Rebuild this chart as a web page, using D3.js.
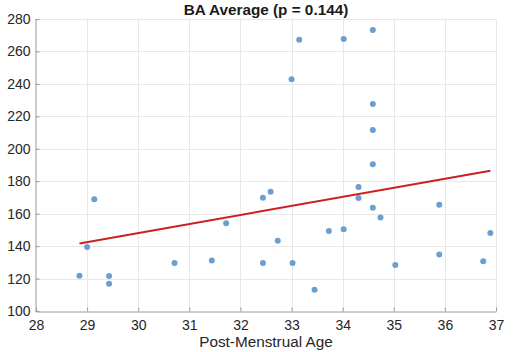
<!DOCTYPE html>
<html>
<head>
<meta charset="utf-8">
<script src="https://cdn.jsdelivr.net/npm/d3@7"></script>
<style>
  html, body { margin: 0; padding: 0; background: #fff; }
  svg { display: block; font-family: "Liberation Sans", Arial, Helvetica, sans-serif; }
</style>
</head>
<body>
<svg id="chart" width="526" height="352"></svg>
<script>
// Post-menstrual age (weeks) and BA average for each subject
const ageValues = [28.85, 29.0, 29.14, 29.43, 29.43, 30.71, 31.44, 31.72, 32.44, 32.59,
                   32.44, 32.73, 33.02, 33.0, 33.15, 33.45, 33.73, 34.02, 34.02, 34.31,
                   34.31, 34.59, 34.59, 34.59, 34.59, 34.59, 34.74, 35.03, 35.89, 35.89,
                   36.75, 36.89];
const baValues  = [121.8, 139.5, 168.9, 121.6, 116.8, 129.6, 131.2, 154.1, 169.8, 173.5,
                   129.6, 143.3, 129.6, 242.8, 267.2, 113.1, 149.3, 150.4, 267.6, 176.4,
                   169.6, 273.2, 227.6, 211.6, 190.4, 163.7, 157.7, 128.4, 165.5, 134.9,
                   130.6, 148.1];

// Linear fit, evaluated at the ends of the age range
const fitAge = [28.85, 36.89];
const fitBA  = [141.6, 186.5];

const xTicks = [28, 29, 30, 31, 32, 33, 34, 35, 36, 37];
const yTicks = [100, 120, 140, 160, 180, 200, 220, 240, 260, 280];

const titleText = "BA Average (p = 0.144)";
const xLabelText = "Post-Menstrual Age";

const svg = d3.select("#chart");
const plotLeft = 36, plotRight = 496, plotTop = 19, plotBottom = 311;

const x = d3.scaleLinear().domain([28, 37]).range([plotLeft, plotRight]);
const y = d3.scaleLinear().domain([100, 280]).range([plotBottom, plotTop]);

// grid
const grid = svg.append("g").attr("stroke", "#e8e8e8").attr("stroke-width", 1);
grid.selectAll("line.gx").data(xTicks.slice(1)).join("line")
  .attr("x1", d => Math.round(x(d)) + 0.5).attr("x2", d => Math.round(x(d)) + 0.5)
  .attr("y1", plotTop).attr("y2", plotBottom);
grid.selectAll("line.gy").data(yTicks.slice(1)).join("line")
  .attr("x1", plotLeft).attr("x2", plotRight)
  .attr("y1", d => Math.round(y(d)) + 0.5).attr("y2", d => Math.round(y(d)) + 0.5);

// axes with inward ticks
const axisColor = "#9a9a9a";
const xAxis = svg.append("g").attr("transform", `translate(0,${plotBottom + 0.5})`)
  .call(d3.axisBottom(x).tickValues(xTicks).tickSizeInner(-4).tickSizeOuter(0).tickPadding(9));
const yAxis = svg.append("g").attr("transform", `translate(${plotLeft - 0.5},0)`)
  .call(d3.axisLeft(y).tickValues(yTicks).tickSizeInner(-4).tickSizeOuter(0).tickPadding(5));
[xAxis, yAxis].forEach(g => {
  g.select(".domain").attr("stroke", axisColor);
  g.selectAll(".tick line").attr("stroke", axisColor);
  g.selectAll(".tick text").attr("fill", "#262626")
    .style("font-size", "14px")
    .style("font-family", '"Liberation Sans", Arial, sans-serif');
});
yAxis.selectAll(".tick text").attr("x", -5);

// points
svg.append("g").selectAll("circle").data(ageValues.map((a, i) => [a, baValues[i]])).join("circle")
  .attr("cx", d => x(d[0])).attr("cy", d => y(d[1])).attr("r", 3)
  .attr("fill", "#6c9fcd");

// fit line
svg.append("path")
  .datum(fitAge.map((a, i) => [a, fitBA[i]]))
  .attr("d", d3.line().x(d => x(d[0])).y(d => y(d[1])))
  .attr("stroke", "#cc2020").attr("stroke-width", 2).attr("fill", "none");

// title and axis label
svg.append("text").attr("x", (plotLeft + plotRight) / 2).attr("y", 15)
  .attr("text-anchor", "middle").attr("font-weight", "bold").attr("font-size", 15.3)
  .attr("fill", "#1a1a1a").text(titleText);
svg.append("text").attr("x", (plotLeft + plotRight) / 2).attr("y", 347)
  .attr("text-anchor", "middle").attr("font-size", 15.3)
  .attr("fill", "#262626").text(xLabelText);
</script>
</body>
</html>
